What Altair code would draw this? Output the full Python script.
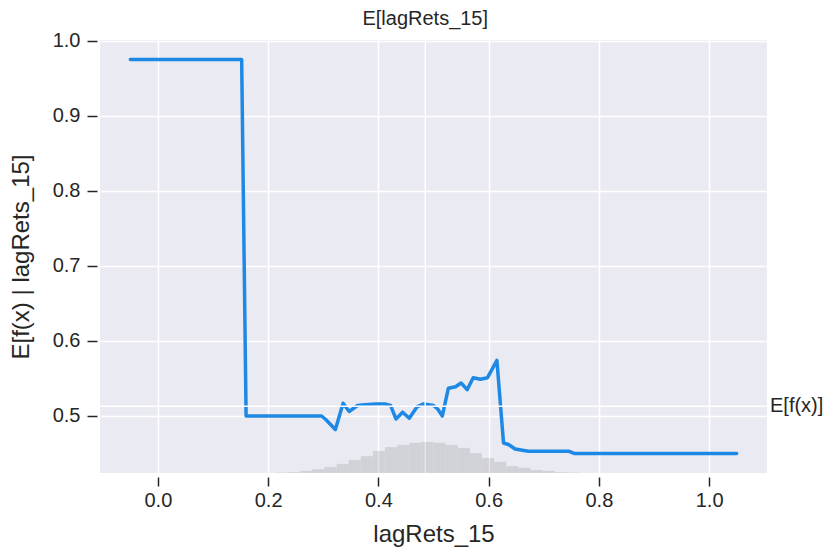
import altair as alt
import pandas as pd

# Partial dependence of the model output on lagRets_15
feature_x = [-0.05, 0.152, 0.160, 0.297, 0.305, 0.322, 0.336, 0.347, 0.362, 0.375,
             0.395, 0.412, 0.422, 0.432, 0.444, 0.456, 0.470, 0.482, 0.500, 0.508,
             0.516, 0.527, 0.540, 0.550, 0.561, 0.572, 0.585, 0.598, 0.615, 0.627,
             0.636, 0.648, 0.672, 0.745, 0.755, 1.05]
expected_fx = [0.975, 0.975, 0.500, 0.500, 0.495, 0.482, 0.517, 0.506, 0.514, 0.515,
               0.516, 0.516, 0.514, 0.496, 0.505, 0.497, 0.512, 0.516, 0.514, 0.509,
               0.500, 0.537, 0.539, 0.544, 0.535, 0.551, 0.549, 0.551, 0.574, 0.464,
               0.462, 0.456, 0.453, 0.453, 0.450, 0.450]

# Feature value histogram (50 bins over [-0.05, 1.05], only non-empty bins listed)
bin_width = 0.022
hist_left = [0.214, 0.236, 0.258, 0.280, 0.302, 0.324, 0.346, 0.368, 0.390, 0.412,
             0.434, 0.456, 0.478, 0.500, 0.522, 0.544, 0.566, 0.588, 0.610, 0.632,
             0.654, 0.676, 0.698, 0.720, 0.742]
hist_count = [1, 2, 5, 9, 14, 21, 30, 39, 51, 60,
              65, 70, 72, 70, 65, 58, 46, 35, 26, 16,
              12, 7, 5, 2, 1]
hist_total = 1000

# Reference values
model_expected = 0.513
feature_expected = 0.485
feature_name = "lagRets_15"

x_ticks = [0.0, 0.2, 0.4, 0.6, 0.8, 1.0]
y_ticks = [0.5, 0.6, 0.7, 0.8, 0.9, 1.0]
x_domain = [-0.105, 1.105]
y_domain = [0.424, 1.001]

W, H = 667, 433
FONT = "Liberation Sans"
TEXT = "#262626"

line_df = pd.DataFrame({"x": feature_x, "y": expected_fx})
hist_df = pd.DataFrame({"left": hist_left, "count": hist_count})
hist_df["right"] = hist_df["left"] + bin_width

x_scale = alt.Scale(domain=x_domain, nice=False, zero=False)
y_scale = alt.Scale(domain=y_domain, nice=False, zero=False)

x_axis = alt.Axis(values=x_ticks, format=".1f", title=feature_name,
                  grid=True, gridColor="white", gridWidth=1.5,
                  domain=False, ticks=True, tickColor=TEXT, tickWidth=1.5, tickSize=9,
                  offset=4, labelPadding=4, labelFontSize=20, labelFont=FONT,
                  labelColor=TEXT, titleFontSize=24, titleFont=FONT, titleColor=TEXT,
                  titleFontWeight="normal", titleY=64, titleBaseline="alphabetic")
y_axis = alt.Axis(values=y_ticks, format=".1f", title=f"E[f(x) | {feature_name}]",
                  grid=True, gridColor="white", gridWidth=1.5,
                  domain=False, ticks=True, tickColor=TEXT, tickWidth=1.5, tickSize=10,
                  offset=3, labelPadding=7, labelFontSize=20, labelFont=FONT,
                  labelColor=TEXT, titleFontSize=24, titleFont=FONT, titleColor=TEXT,
                  titleFontWeight="normal", titleX=-76, titleBaseline="middle")

base_line = alt.Chart(line_df).mark_line(
    color="#1E88E5", strokeWidth=3.5, strokeJoin="round", strokeCap="round"
).encode(
    x=alt.X("x:Q", scale=x_scale, axis=x_axis),
    y=alt.Y("y:Q", scale=y_scale, axis=y_axis),
)

ref_df = pd.DataFrame({"fx": [model_expected], "fv": [feature_expected],
                       "fx_label": ["E[f(x)]"], "fv_label": [f"E[{feature_name}]"]})

h_rule = alt.Chart(ref_df).mark_rule(color="white", strokeWidth=1.5).encode(
    y=alt.Y("fx:Q", scale=y_scale))
v_rule = alt.Chart(ref_df).mark_rule(color="white", strokeWidth=1.5).encode(
    x=alt.X("fv:Q", scale=x_scale))

fx_text = alt.Chart(ref_df).mark_text(
    align="left", baseline="middle", fontSize=20, font=FONT, color=TEXT
).encode(y=alt.Y("fx:Q", scale=y_scale), x=alt.value(W + 3),
         text="fx_label:N")
fv_text = alt.Chart(ref_df).mark_text(
    align="center", baseline="alphabetic", fontSize=20, font=FONT, color=TEXT
).encode(x=alt.X("fv:Q", scale=x_scale), y=alt.value(-15),
         text="fv_label:N")

main = alt.layer(base_line, v_rule, h_rule, fx_text, fv_text)

hist = alt.Chart(hist_df).mark_rect(
    color="black", opacity=0.1, stroke="white", strokeWidth=0.4, strokeOpacity=0.4
).encode(
    x=alt.X("left:Q", scale=x_scale),
    x2="right:Q",
    y=alt.Y("count:Q", scale=alt.Scale(domain=[0, hist_total], nice=False), axis=None),
    y2=alt.datum(0),
)

chart = alt.layer(main, hist).resolve_scale(y="independent").properties(
    width=W, height=H,
    autosize=alt.AutoSizeParams(type="none"),
    padding={"left": 100, "top": 40, "right": 69, "bottom": 79},
    background="white",
).configure_view(fill="#EAEAF2", stroke=None)

chart.save("out.html", embed_options={"renderer": "svg", "actions": False})
